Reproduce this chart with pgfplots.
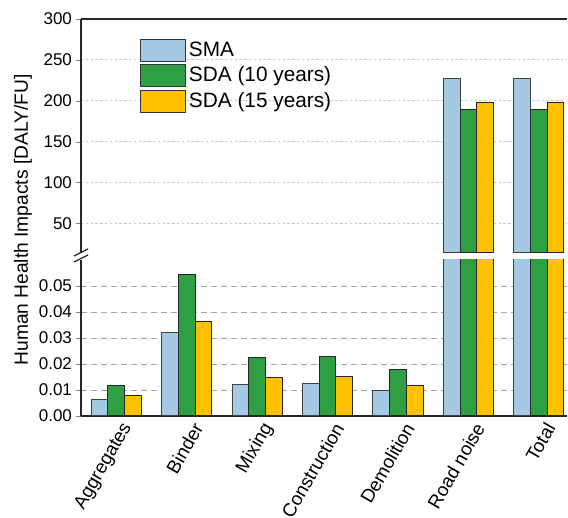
\documentclass[border=0pt]{standalone}
\usepackage{pgfplots}
\pgfplotsset{compat=1.18}
\usepackage{fontspec}
\setmainfont{Liberation Sans}
\definecolor{cSMA}{RGB}{163,201,227}
\definecolor{cTen}{RGB}{46,160,66}
\definecolor{cFif}{RGB}{255,192,0}
\pgfplotsset{
  boxleg/.style={legend image code/.code={\draw[##1,draw=black!80,line width=0.5pt] (0pt,-5.5pt) rectangle (22.5pt,5.5pt);}},
  common/.style={
    scale only axis, width=243pt, xmin=-0.5, xmax=6.4,
    ybar=0pt, bar width=8.35pt,
    axis line style={-, line width=0.8pt, black!85},
    ytick pos=left, tick align=outside, major tick length=2.5pt,
    xtick=\empty,
    ymajorgrids,
    /pgf/number format/assume math mode=true,
    yticklabel style={font=\fontsize{8.5}{10}\selectfont, xshift=1.5pt},
    clip=true,
  },
}
\begin{document}
\begin{tikzpicture}
% lower panel
\begin{axis}[common, name=lower, at={(0,0)}, anchor=south west,
  height=78pt, ymin=0, ymax=0.06,
  restrict y to domain*=0:0.08,
  separate axis lines, axis x line*=bottom, axis y line*=left,
  ytick={0,0.01,0.02,0.03,0.04,0.05},
  scaled y ticks=false,
  yticklabel style={/pgf/number format/.cd, fixed, fixed zerofill, precision=2},
  grid style={densely dashed, gray!70, line width=0.4pt},
  xtick={0,1,2,3,4,5,6},
  xticklabels={Aggregates,Binder,Mixing,Construction,Demolition,Road noise,Total},
  xtick style={draw=none},
  xticklabel style={xshift=7.5pt, yshift=1.2pt, rotate=60, anchor=east, font=\fontsize{9.4}{11}\selectfont},
]
\addplot[fill=cSMA, draw=black!75, line width=0.5pt] coordinates {(0,0.0065) (1,0.0322) (2,0.0123) (3,0.0126) (4,0.0099) (5,226.8) (6,226.8)};
\addplot[fill=cTen, draw=black!85, line width=0.5pt] coordinates {(0,0.0117) (1,0.0546) (2,0.0224) (3,0.0227) (4,0.0177) (5,189.0) (6,189.0)};
\addplot[fill=cFif, draw=black!85, line width=0.5pt] coordinates {(0,0.0079) (1,0.0365) (2,0.0149) (3,0.0151) (4,0.0118) (5,198.0) (6,198.0)};
\end{axis}
% upper panel
\begin{axis}[common, name=upper, at={(0,81.5pt)}, anchor=south west,
  height=117pt, ymin=14, ymax=300,
  restrict y to domain=10:1000,
  separate axis lines, axis x line*=top, axis y line*=left,
  ytick={50,100,150,200,250,300},
  grid style={dash pattern=on 1.2pt off 1.2pt, gray!45, line width=0.5pt},
  legend style={at={(0.1214,0.9145)}, anchor=north west, draw=none, fill=none,
    inner sep=0pt, outer sep=0pt, row sep=0.6pt,
    font=\fontsize{10.4}{12}\selectfont,
    nodes={inner sep=1.5pt}},
  legend cell align=left,
]
\addplot[fill=cSMA, draw=black!75, line width=0.5pt, boxleg] coordinates {(0,0.0065) (1,0.0322) (2,0.0123) (3,0.0126) (4,0.0099) (5,226.8) (6,226.8)};
\addplot[fill=cTen, draw=black!85, line width=0.5pt, boxleg] coordinates {(0,0.0117) (1,0.0546) (2,0.0224) (3,0.0227) (4,0.0177) (5,189.0) (6,189.0)};
\addplot[fill=cFif, draw=black!85, line width=0.5pt, boxleg] coordinates {(0,0.0079) (1,0.0365) (2,0.0149) (3,0.0151) (4,0.0118) (5,198.0) (6,198.0)};
\legend{SMA, SDA (10 years), SDA (15 years)}
\end{axis}
% break marks
\draw[line width=0.6pt, black!85] (-3.5pt,80pt) -- (3.5pt,83.5pt);
\draw[line width=0.6pt, black!85] (-3.5pt,77pt) -- (3.5pt,80.5pt);
% y label
\node[rotate=90, font=\fontsize{9.6}{11}\selectfont] at (-29pt,98pt) {Human Health Impacts [DALY/FU]};
\pgfresetboundingbox
\useasboundingbox (-40.5pt,-51pt) rectangle (243.5pt,208pt);
\end{tikzpicture}
\end{document}
